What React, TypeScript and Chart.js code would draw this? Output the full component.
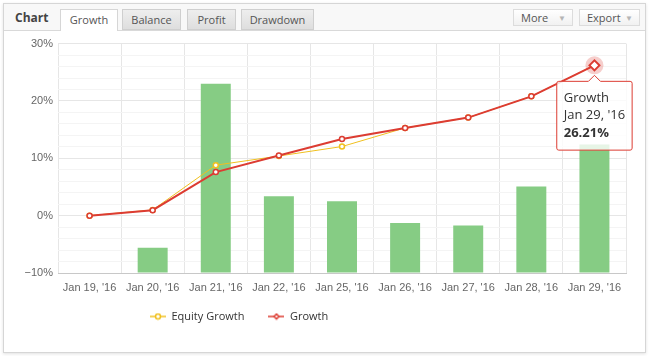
import React, { useEffect, useRef } from 'react';
import { Chart, registerables } from 'chart.js';

Chart.register(...registerables);

const categories = ["Jan 19, '16", "Jan 20, '16", "Jan 21, '16", "Jan 22, '16", "Jan 25, '16", "Jan 26, '16", "Jan 27, '16", "Jan 28, '16", "Jan 29, '16"];
const equityGrowth = [0, 1.0, 8.8, 10.4, 12.05, 15.3, 17.1, 20.8, 26.21];
const growth = [0, 0.95, 7.6, 10.5, 13.35, 15.3, 17.1, 20.8, 26.21];
const dailyBars = [null, -5.6, 23.0, 3.4, 2.5, -1.3, -1.7, 5.1, 12.4];
const yMin = -10;
const yMax = 30;
const yStep = 2;
const yLabelStep = 10;
const tabs = ['Growth', 'Balance', 'Profit', 'Drawdown'];

const RED = '#dc3c32';
const YELLOW = '#f0c020';
const GREEN = '#86cc84';

function makeSymbol(color: string, diamond: boolean) {
  const c = document.createElement('canvas');
  c.width = 16;
  c.height = 8;
  const g = c.getContext('2d')!;
  g.globalAlpha = 0.75;
  g.strokeStyle = color;
  g.lineWidth = 2;
  g.beginPath();
  g.moveTo(0, 4);
  g.lineTo(16, 4);
  g.stroke();
  g.globalAlpha = 1;
  g.fillStyle = '#fff';
  g.lineWidth = 1.5;
  g.beginPath();
  if (diamond) {
    g.moveTo(8, 1.5); g.lineTo(10.5, 4); g.lineTo(8, 6.5); g.lineTo(5.5, 4); g.closePath();
  } else {
    g.arc(8, 4, 2.5, 0, Math.PI * 2);
  }
  g.fill();
  g.stroke();
  return c;
}

const tabBox: Record<string, { left: number; width: number }> = {
  Growth: { left: 60, width: 58 },
  Balance: { left: 122, width: 59 },
  Profit: { left: 187, width: 49 },
  Drawdown: { left: 241, width: 73 },
};

export default function App() {
  const ref = useRef<HTMLCanvasElement | null>(null);

  useEffect(() => {
    if (!ref.current) return;
    const last = growth.length - 1;
    const symEq = makeSymbol(YELLOW, false);
    const symGr = makeSymbol(RED, true);

    const haloPlugin = {
      id: 'halo',
      beforeDatasetDraw(chart: any, args: any) {
        if (args.index !== 1) return;
        const el = chart.getDatasetMeta(1).data[last];
        if (!el) return;
        const ctx = chart.ctx;
        ctx.save();
        ctx.fillStyle = 'rgba(220,60,50,0.25)';
        ctx.beginPath();
        ctx.arc(el.x, el.y, 9, 0, Math.PI * 2);
        ctx.fill();
        ctx.restore();
      },
    };

    const legendShift = {
      id: 'legendShift',
      afterLayout(chart: any) {
        const lg = chart.legend;
        if (!lg) return;
        const h = lg.bottom - lg.top;
        lg.left = 146 - 24;
        lg.right = lg.left + 500;
        lg.top = 285 - 24 - 6;
        lg.bottom = lg.top + h;
      },
    };

    const chart = new Chart(ref.current, {
      type: 'bar',
      data: {
        labels: categories,
        datasets: [
          {
            type: 'line',
            label: 'Equity Growth',
            data: equityGrowth,
            borderColor: YELLOW,
            borderWidth: 1,
            backgroundColor: '#fff',
            pointBackgroundColor: '#fff',
            pointBorderColor: YELLOW,
            pointBorderWidth: 1.5,
            pointRadius: 2.5,
            tension: 0,
            fill: false,
            order: 1,
          } as any,
          {
            type: 'line',
            label: 'Growth',
            data: growth,
            borderColor: RED,
            borderWidth: 2,
            backgroundColor: '#fff',
            pointBackgroundColor: '#fff',
            pointBorderColor: RED,
            pointBorderWidth: growth.map((_, i) => (i === last ? 2 : 1.5)),
            pointRadius: growth.map((_, i) => (i === last ? 5 : 2.5)),
            pointStyle: growth.map((_, i) => (i === last ? 'rectRot' : 'circle')),
            tension: 0,
            fill: false,
            order: 0,
          } as any,
          {
            type: 'bar',
            label: 'Daily',
            data: dailyBars,
            base: yMin,
            backgroundColor: GREEN,
            borderWidth: 0,
            barPercentage: 0.475,
            categoryPercentage: 1,
            order: 2,
          } as any,
        ],
      },
      options: {
        animation: false,
        responsive: true,
        maintainAspectRatio: false,
        events: [],
        layout: { padding: { top: 11, right: 18, bottom: 3, left: 0 } },
        scales: {
          x: {
            offset: true,
            grid: { color: '#e6e6e6', offset: true, drawTicks: false },
            border: { display: true, color: '#c8c8c8', width: 1 },
            ticks: {
              color: '#666',
              font: { family: 'Liberation Sans', size: 11 },
              padding: 8,
              maxRotation: 0,
              autoSkip: false,
            },
            afterFit: (scale: any) => { scale.height = 29; },
          },
          y: {
            min: yMin,
            max: yMax,
            border: { display: false },
            grid: {
              drawTicks: false,
              color: (ctx: any) => {
                const v = ctx.tick ? ctx.tick.value : 0;
                if (v === yMin) return '#c8c8c8';
                return v % yLabelStep === 0 ? '#e6e6e6' : '#f4f4f4';
              },
            },
            ticks: {
              stepSize: yStep,
              autoSkip: false,
              color: '#666',
              font: { family: 'Liberation Sans', size: 11 },
              padding: 5,
              callback: (v: any) => (v % yLabelStep === 0 ? (v < 0 ? '\u2212' : '') + Math.abs(v) + '%' : ''),
            },
            afterFit: (scale: any) => { scale.width = 54; },
          },
        },
        plugins: {
          legend: {
            position: 'bottom',
            align: 'start',
            labels: {
              usePointStyle: true,
              pointStyleWidth: 16,
              padding: 24,
              color: '#333',
              font: { family: 'Open Sans', size: 11 },
              generateLabels: (ch: any) =>
                ch.data.datasets.slice(0, 2).map((ds: any, i: number) => ({
                  text: ds.label,
                  pointStyle: i === 0 ? symEq : symGr,
                  datasetIndex: i,
                  fillStyle: '#fff',
                  strokeStyle: ds.borderColor,
                  lineWidth: 0,
                  hidden: false,
                  fontColor: '#333',
                })),
            },
          },
          tooltip: {
            enabled: true,
            backgroundColor: 'rgba(255,255,255,0.8)',
            borderColor: RED,
            borderWidth: 1,
            titleColor: '#333',
            bodyColor: '#333',
            titleFont: { family: 'Open Sans', size: 13, weight: 'normal' },
            bodyFont: { family: 'Open Sans', size: 13, weight: 'bold' },
            titleSpacing: 2,
            titleMarginBottom: 2,
            padding: { top: 9, bottom: 9, left: 7, right: 7 },
            caretSize: 6,
            caretPadding: 10,
            cornerRadius: 2,
            displayColors: false,
            xAlign: 'center',
            yAlign: 'top',
            callbacks: {
              title: (items: any[]) => [items[0].dataset.label, categories[items[0].dataIndex]],
              label: (item: any) => item.parsed.y.toFixed(2) + '%',
            },
          },
        },
      } as any,
      plugins: [haloPlugin, legendShift],
    });

    const el = chart.getDatasetMeta(1).data[last] as any;
    chart.tooltip!.setActiveElements([{ datasetIndex: 1, index: last }], { x: el.x, y: el.y });
    chart.update();

    return () => chart.destroy();
  }, []);

  return (
    <div style={{ position: 'absolute', left: 0, top: 0, width: 649, height: 356, background: '#fff', fontFamily: 'Open Sans' }}>
      <div
        style={{
          position: 'absolute', left: 3, top: 3, width: 641, height: 348,
          border: '1px solid #d6d6d6', background: '#fff',
          boxShadow: '0 1px 3px rgba(0,0,0,0.12)',
        }}
      />
      <div
        style={{
          position: 'absolute', left: 4, top: 4, width: 641, height: 26,
          background: '#f8f8f8', borderBottom: '1px solid #d9d9d9',
        }}
      />
      <div style={{ position: 'absolute', left: 15, top: 9, fontSize: 12, fontWeight: 'bold', color: '#444', lineHeight: '18px' }}>Chart</div>
      {tabs.map((t) => {
        const b = tabBox[t];
        const active = t === 'Growth';
        return (
          <div
            key={t}
            style={{
              position: 'absolute', left: b.left, top: 9, width: b.width, height: active ? 22 : 21,
              boxSizing: 'border-box',
              border: '1px solid ' + (active ? '#d6d6d6' : '#cfcfcf'),
              borderBottom: active ? 'none' : '1px solid #cfcfcf',
              background: active ? '#fff' : 'linear-gradient(#eeeeee, #dedede)',
              color: '#555', fontSize: 11, textAlign: 'center', lineHeight: '20px',
            }}
          >
            {t}
          </div>
        );
      })}
      {[{ t: 'More', l: 513, w: 60 }, { t: 'Export', l: 579, w: 61 }].map((b) => (
        <div
          key={b.t}
          style={{
            position: 'absolute', left: b.l, top: 9, width: b.w, height: 17, boxSizing: 'border-box',
            border: '1px solid #dcdcdc', background: 'linear-gradient(#ffffff, #f1f1f1)',
            color: '#555', fontSize: 11, lineHeight: '15px', paddingLeft: 7,
          }}
        >
          {b.t}
          <span style={{ position: 'absolute', right: 6, top: 0, color: '#b5b5b5', fontSize: 8 }}>▼</span>
        </div>
      ))}
      <div style={{ position: 'absolute', left: 4, top: 32, width: 640, height: 318 }}>
        <canvas ref={ref} />
      </div>
    </div>
  );
}
